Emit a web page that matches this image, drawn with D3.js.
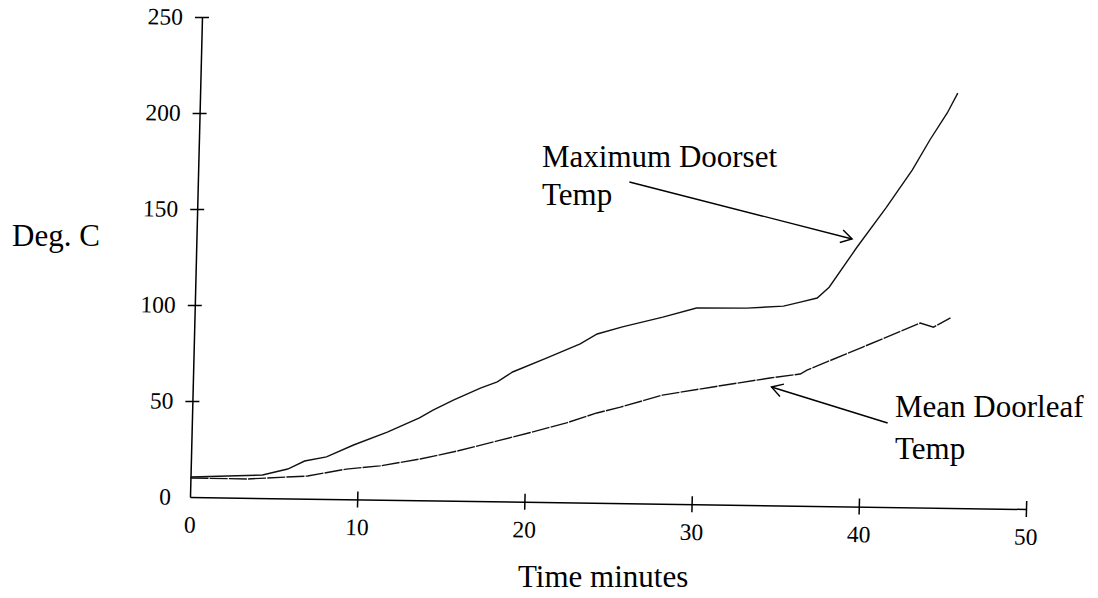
<!DOCTYPE html>
<html><head><meta charset="utf-8">
<script src="https://cdn.jsdelivr.net/npm/d3@7"></script>
<style>
body{margin:0;background:#fff}
svg{display:block;background:#fff}
text{font-family:"Liberation Serif","Times New Roman",serif;fill:#000}
</style></head>
<body><svg id="c" width="1098" height="598"></svg>
<script>
// ---- data ----
const xTicks = [0, 10, 20, 30, 40, 50];
const yTicks = [0, 50, 100, 150, 200, 250];

const maxTime = [0, 4.3, 5.8, 6.8, 8.1, 9.7, 11.7, 13.6, 14.4, 15.6, 17.2, 18.2, 19.1, 21.1, 23.1, 24.1, 25.6, 28, 30, 33, 35.2, 36.2, 37.2, 37.9, 39.5, 41.2, 42.7, 43.7, 44.7, 45.3];
const maxTemp = [10.4, 12, 15.3, 19.6, 21.9, 28.3, 35.3, 42.9, 47.1, 52.4, 58.9, 62.2, 67.5, 75, 82.6, 87.9, 91.8, 97.2, 102.2, 102.5, 103.8, 106, 108.3, 114, 135, 156, 175.7, 191.4, 205.6, 216];

const meanTime = [0, 3.4, 7, 9.3, 11.3, 13.7, 15.9, 18.3, 20.2, 22.4, 24.2, 25.6, 28.1, 31.1, 34.5, 36.3, 36.7, 40, 43.4, 44.2, 45.2];
const meanTemp = [9.9, 9.8, 11.8, 15.7, 17.6, 21.5, 25.9, 31.5, 36, 41.4, 46.8, 50, 56.6, 61.2, 66.3, 68.6, 70.7, 83.1, 96, 94, 98.9];

// annotation arrows: [fromTime, fromTemp, toTime, toTemp]
const maxArrow = [25.8, 167.3, 39.2, 139.3];
const meanArrow = [41.6, 43.75, 34.6, 61.6];

// ---- drawing ----
const W = 836, H = 480;
const x = d3.scaleLinear().domain([0, 50]).range([0, W]);
const y = d3.scaleLinear().domain([0, 250]).range([H, 0]);

const svg = d3.select("#c");
const defs = svg.append("defs");
defs.append("marker").attr("id", "ah")
  .attr("viewBox", "-13 -8 15 16").attr("refX", 0).attr("refY", 0)
  .attr("markerWidth", 15).attr("markerHeight", 16)
  .attr("markerUnits", "userSpaceOnUse").attr("orient", "auto")
  .append("path").attr("d", "M-11,-6.5L0,0L-11,6.5")
  .attr("fill", "none").attr("stroke", "#000").attr("stroke-width", 1.4);

// slightly skewed frame, as in the scanned original
const g = svg.append("g").attr("transform", "matrix(1,0.01435,-0.025,1,202,17)");

const yAxis = g.append("g").call(
  d3.axisLeft(y).tickValues(yTicks).tickSizeInner(7).tickSizeOuter(0).tickPadding(12));
yAxis.selectAll(".tick line").attr("x1", 7).filter(d => d === 0).remove();

const xAxis = g.append("g").attr("transform", `translate(0,${H})`).call(
  d3.axisBottom(x).tickValues(xTicks).tickSizeInner(8).tickSizeOuter(0).tickPadding(11));
xAxis.selectAll(".tick line").attr("y1", -8).filter(d => d === 0).remove();

[yAxis, xAxis].forEach(a => {
  a.selectAll("path,line").attr("stroke", "#000").attr("stroke-width", 1.5);
  a.selectAll("text").style("font-size", "23.5px")
   .style("font-family", '"Liberation Serif","Times New Roman",serif').attr("fill", "#000");
});

const line = d3.line().x(d => x(d[0])).y(d => y(d[1]));
g.append("path").datum(maxTime.map((t, i) => [t, maxTemp[i]]))
  .attr("d", line).attr("fill", "none").attr("stroke", "#111").attr("stroke-width", 1.4);
g.append("path").datum(meanTime.map((t, i) => [t, meanTemp[i]]))
  .attr("d", line).attr("fill", "none").attr("stroke", "#111").attr("stroke-width", 1.4)
  .attr("stroke-dasharray", "18,1.2");

[maxArrow, meanArrow].forEach(a => {
  g.append("line").attr("x1", x(a[0])).attr("y1", y(a[1]))
    .attr("x2", x(a[2])).attr("y2", y(a[3]))
    .attr("stroke", "#000").attr("stroke-width", 1.4).attr("marker-end", "url(#ah)");
});

// titles and annotation labels
const big = "31px";
svg.append("text").attr("x", 12).attr("y", 246).style("font-size", big).text("Deg. C");
svg.append("text").attr("x", 518).attr("y", 587).style("font-size", big).text("Time minutes");
svg.append("text").attr("x", 542).attr("y", 167).style("font-size", big).text("Maximum Doorset");
svg.append("text").attr("x", 542).attr("y", 205).style("font-size", big).text("Temp");
svg.append("text").attr("x", 895).attr("y", 417).style("font-size", big).text("Mean Doorleaf");
svg.append("text").attr("x", 895).attr("y", 459).style("font-size", big).text("Temp");
</script>
</body></html>
